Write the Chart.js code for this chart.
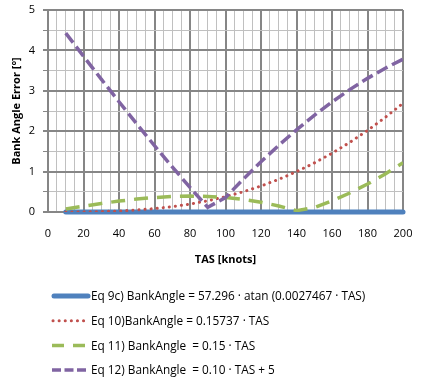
<!DOCTYPE html>
<html>
<head>
<meta charset="utf-8">
<script src="https://cdn.jsdelivr.net/npm/chart.js@4"></script>
<style>
  html, body { margin: 0; padding: 0; background: #fff; }
  #wrap { width: 422px; height: 384px; }
</style>
</head>
<body>
<div id="wrap"><canvas id="errorChart" width="422" height="384"></canvas></div>
<script>
// TAS values (knots) used for every series
const tas = [10, 20, 30, 40, 50, 60, 70, 80, 90, 100, 110, 120, 130, 140, 150, 160, 170, 180, 190, 200];

// Bank angle error, in degrees
const eq9cError = [0, 0, 0, 0, 0, 0, 0, 0, 0, 0, 0, 0, 0, 0, 0, 0, 0, 0, 0, 0];
const eq10Error = [0.0004, 0.003, 0.011, 0.025, 0.049, 0.084, 0.133, 0.197, 0.278, 0.379, 0.500, 0.643, 0.809, 0.999, 1.214, 1.455, 1.723, 2.018, 2.341, 2.692];
const eq11Error = [0.073, 0.144, 0.211, 0.270, 0.320, 0.358, 0.384, 0.393, 0.385, 0.359, 0.312, 0.243, 0.150, 0.034, 0.108, 0.276, 0.470, 0.692, 0.941, 1.218];
const eq12Error = [4.427, 3.856, 3.289, 2.730, 2.180, 1.642, 1.117, 0.607, 0.115, 0.359, 0.812, 1.243, 1.650, 2.034, 2.392, 2.724, 3.030, 3.308, 3.559, 3.782];

const seriesLabels = [
    'Eq 9c) BankAngle = 57.296 \u00b7 atan (0.0027467 \u00b7 TAS)',
    'Eq 10)BankAngle = 0.15737 \u00b7 TAS',
    'Eq 11) BankAngle  = 0.15 \u00b7 TAS',
    'Eq 12) BankAngle  = 0.10 \u00b7 TAS + 5'
];

const xTicks = { min: 0, max: 200, minor: 5, major: 20 };
const yTicks = { min: 0, max: 5, minor: 0.5, major: 1 };

const toPoints = (ys) => ys.map((y, i) => ({ x: tas[i], y: y }));

const majorColor = '#868686';
const minorColor = '#c0c0c0';
const fontName = "'Open Sans', 'Liberation Sans', sans-serif";

// legend drawn as one entry per row, left aligned below the axis title
const rowLegend = {
    id: 'rowLegend',
    afterDraw(chart) {
        const ctx = chart.ctx;
        ctx.save();
        ctx.font = '11.8px ' + fontName;
        ctx.textBaseline = 'middle';
        ctx.fillStyle = '#000';
        chart.data.datasets.forEach((ds, i) => {
            const y = 296 + i * 24.7;
            ctx.beginPath();
            ctx.strokeStyle = ds.borderColor;
            ctx.lineWidth = ds.borderWidth;
            ctx.lineCap = ds.borderCapStyle || 'butt';
            ctx.setLineDash(ds.legendDash || ds.borderDash || []);
            ctx.moveTo(ds.legendStart || 52, y);
            ctx.lineTo(ds.legendEnd || 88, y);
            ctx.stroke();
            ctx.setLineDash([]);
            ctx.fillText(ds.label, 91, y + 1);
        });
        ctx.restore();
    }
};

const ctx = document.getElementById('errorChart').getContext('2d');
new Chart(ctx, {
    type: 'line',
    data: {
        datasets: [
            {
                label: seriesLabels[0],
                data: toPoints(eq9cError),
                borderColor: '#4f81bd',
                borderWidth: 5,
                borderCapStyle: 'round',
                legendStart: 54,
                legendEnd: 88,
                pointRadius: 0,
                clip: false,
                order: 4,
            },
            {
                label: seriesLabels[1],
                data: toPoints(eq10Error),
                borderColor: '#c0504d',
                borderWidth: 3,
                borderDash: [0.1, 6],
                borderCapStyle: 'round',
                legendStart: 53,
                legendEnd: 84,
                pointRadius: 0,
                order: 3,
            },
            {
                label: seriesLabels[2],
                data: toPoints(eq11Error),
                borderColor: '#9bbb59',
                borderWidth: 3.5,
                borderDash: [14, 9],
                legendDash: [12, 9],
                legendEnd: 86,
                pointRadius: 0,
                order: 2,
            },
            {
                label: seriesLabels[3],
                data: toPoints(eq12Error),
                borderColor: '#8064a2',
                borderWidth: 3.5,
                borderDash: [12, 5],
                legendDash: [9, 3.5],
                legendEnd: 86,
                pointRadius: 0,
                order: 1,
            },
        ],
    },
    options: {
        responsive: false,
        animation: false,
        layout: { padding: { left: 6, top: 10, right: 19, bottom: 116 } },
        plugins: {
            legend: { display: false },
            tooltip: { enabled: false },
        },
        scales: {
            x: {
                type: 'linear',
                min: xTicks.min,
                max: xTicks.max,
                afterFit: (scale) => {
                    scale.height = 56;
                    scale.paddingLeft = 0;
                    scale.paddingRight = 0;
                },
                grid: {
                    drawTicks: false,
                    color: (c) => c.tick && c.tick.value % xTicks.major === 0 ? majorColor : minorColor,
                    lineWidth: (c) => c.tick && c.tick.value % xTicks.major === 0 ? 2 : 1,
                },
                border: { color: majorColor, width: 2 },
                ticks: {
                    stepSize: xTicks.minor,
                    autoSkip: false,
                    maxRotation: 0,
                    padding: 15,
                    color: '#000',
                    font: { family: fontName, size: 11 },
                    callback: (v) => v % xTicks.major === 0 ? String(v) : '',
                },
                title: {
                    display: true,
                    text: 'TAS [knots]',
                    color: '#000',
                    font: { family: fontName, size: 11, weight: 'bold' },
                    padding: { top: 0, bottom: 2 },
                },
            },
            y: {
                min: yTicks.min,
                max: yTicks.max,
                afterFit: (scale) => {
                    scale.width = 42;
                    scale.paddingTop = 0;
                    scale.paddingBottom = 0;
                },
                grid: {
                    tickLength: 5,
                    color: (c) => c.tick && c.tick.value % yTicks.major === 0 ? majorColor : minorColor,
                    lineWidth: (c) => c.tick && c.tick.value % yTicks.major === 0 ? 2 : 1,
                    tickColor: majorColor,
                },
                border: { color: majorColor, width: 2 },
                ticks: {
                    stepSize: yTicks.minor,
                    autoSkip: false,
                    padding: 8,
                    color: '#000',
                    font: { family: fontName, size: 11 },
                    callback: (v) => v % yTicks.major === 0 ? String(v) : '',
                },
                title: {
                    display: true,
                    text: 'Bank Angle Error [\u00b0]',
                    color: '#000',
                    font: { family: fontName, size: 11, weight: 'bold' },
                    padding: { top: 4, bottom: 0 },
                },
            },
        },
    },
    plugins: [rowLegend],
});
</script>
</body>
</html>
